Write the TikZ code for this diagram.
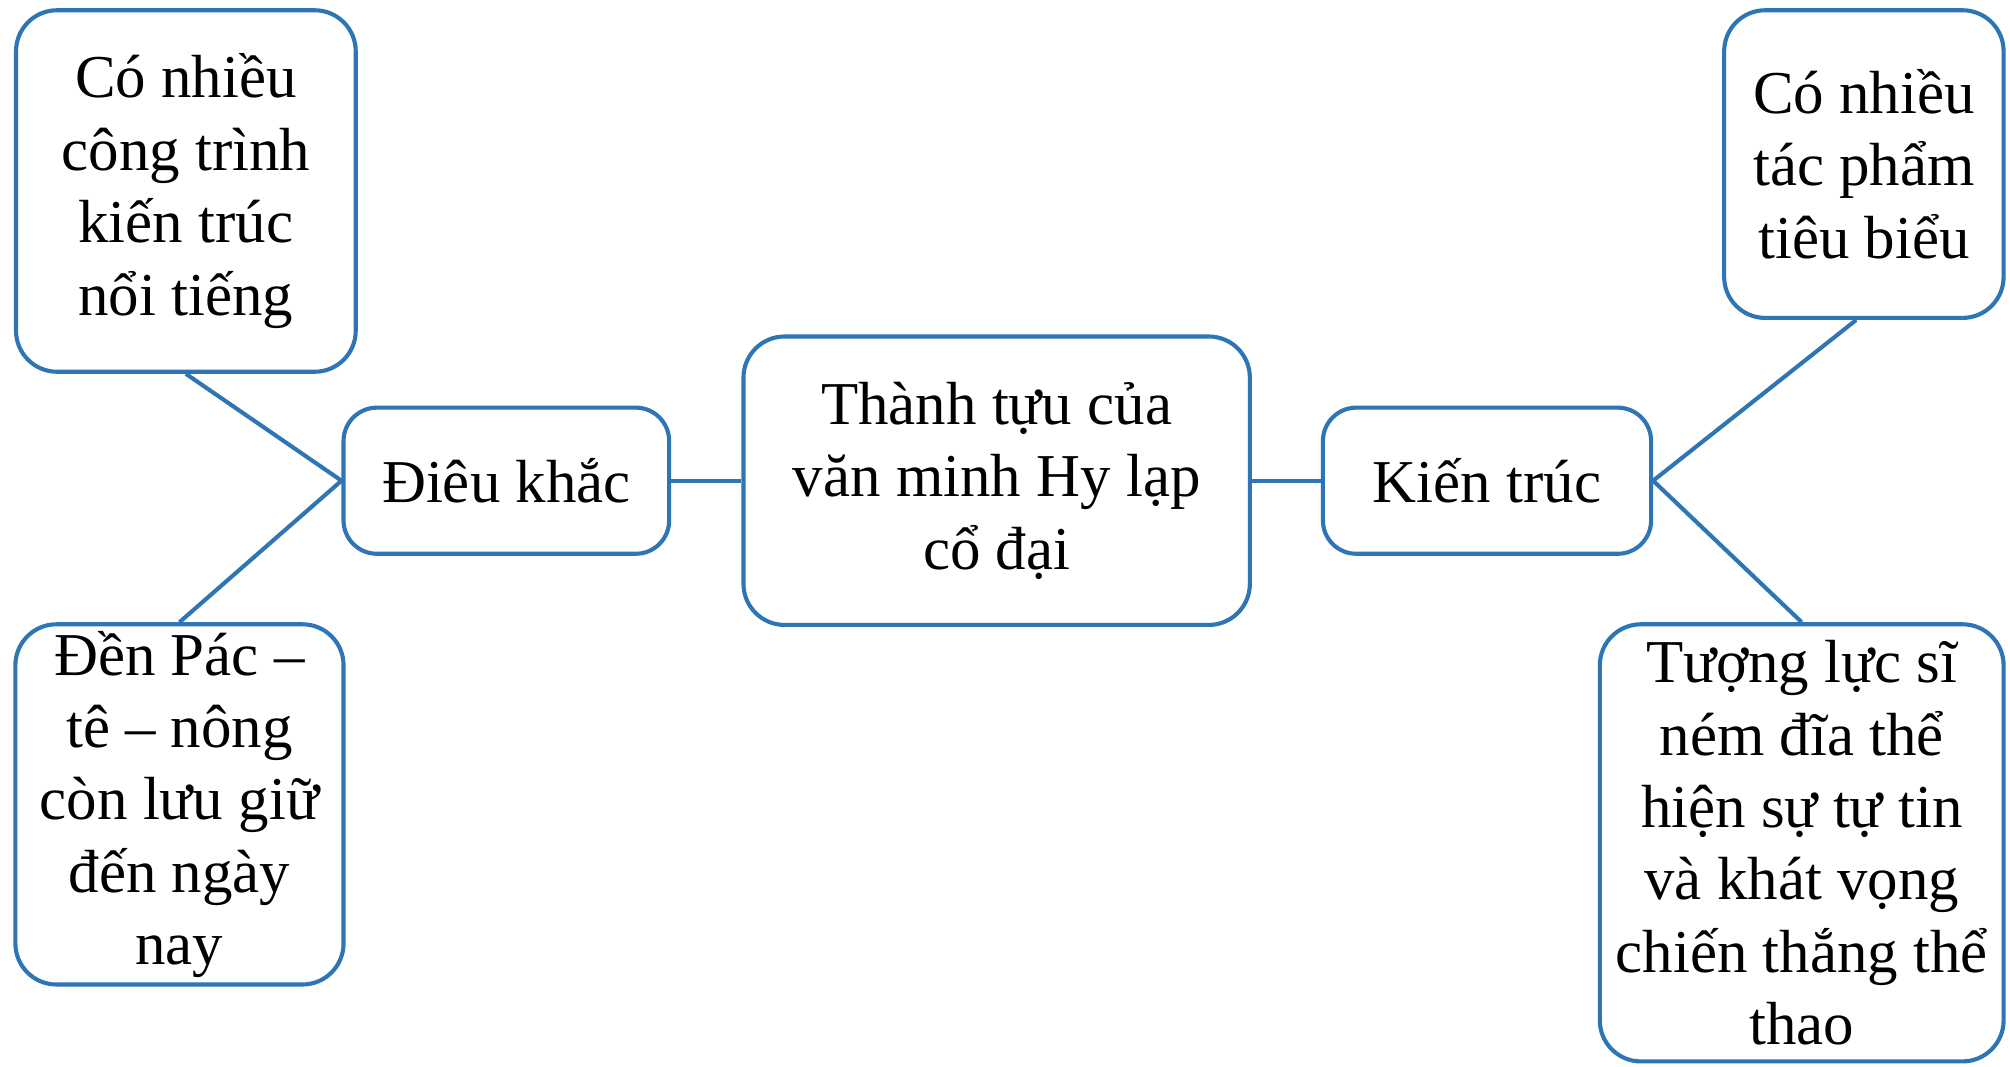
\documentclass[tikz,border=0pt]{standalone}
\usepackage{fontspec}
\setmainfont{Liberation Serif}
\definecolor{edgeblue}{RGB}{46,117,182}
\begin{document}
\begin{tikzpicture}[x=1pt,y=1pt,
  box/.style={draw=edgeblue, line width=3.2pt, rounded corners=32pt, fill=white,
    align=center, inner sep=0pt, font=\fontsize{47.5}{56.5}\selectfont},
  link/.style={draw=edgeblue, line width=3.2pt}]
\useasboundingbox (0,0) rectangle (1568,-832);
\node[box, minimum width=265, minimum height=282] (tl) at (145,-149) {Có nhiều\\công trình\\kiến trúc\\nổi tiếng};
\node[box, minimum width=256, minimum height=281] (bl) at (140,-627.5) {Đền Pác –\\tê – nông\\còn lưu giữ\\đến ngày\\nay};
\node[box, rounded corners=26pt, minimum width=254, minimum height=114] (dk) at (395,-375) {Điêu khắc};
\node[box, minimum width=395, minimum height=225] (c) at (777.5,-375) {Thành tựu của\\văn minh Hy lạp\\cổ đại};
\node[box, rounded corners=26pt, minimum width=256, minimum height=114] (kt) at (1160,-375) {Kiến trúc};
\node[box, minimum width=218, minimum height=240] (tr) at (1454,-128) {Có nhiều\\tác phẩm\\tiêu biểu};
\node[box, minimum width=315, minimum height=341] (br) at (1405.5,-657.5) {Tượng lực sĩ\\ném đĩa thể\\hiện sự tự tin\\và khát vọng\\chiến thắng thể\\thao};
\coordinate (trfoot) at ([xshift=-6pt]tr.south);
\draw[link] (tl.south) -- (dk.west);
\draw[link] (bl.north) -- (dk.west);
\draw[link] (dk.east) -- (c.west);
\draw[link] (c.east) -- (kt.west);
\draw[link] (kt.east) -- (trfoot);
\draw[link] (kt.east) -- (br.north);
\end{tikzpicture}
\end{document}
